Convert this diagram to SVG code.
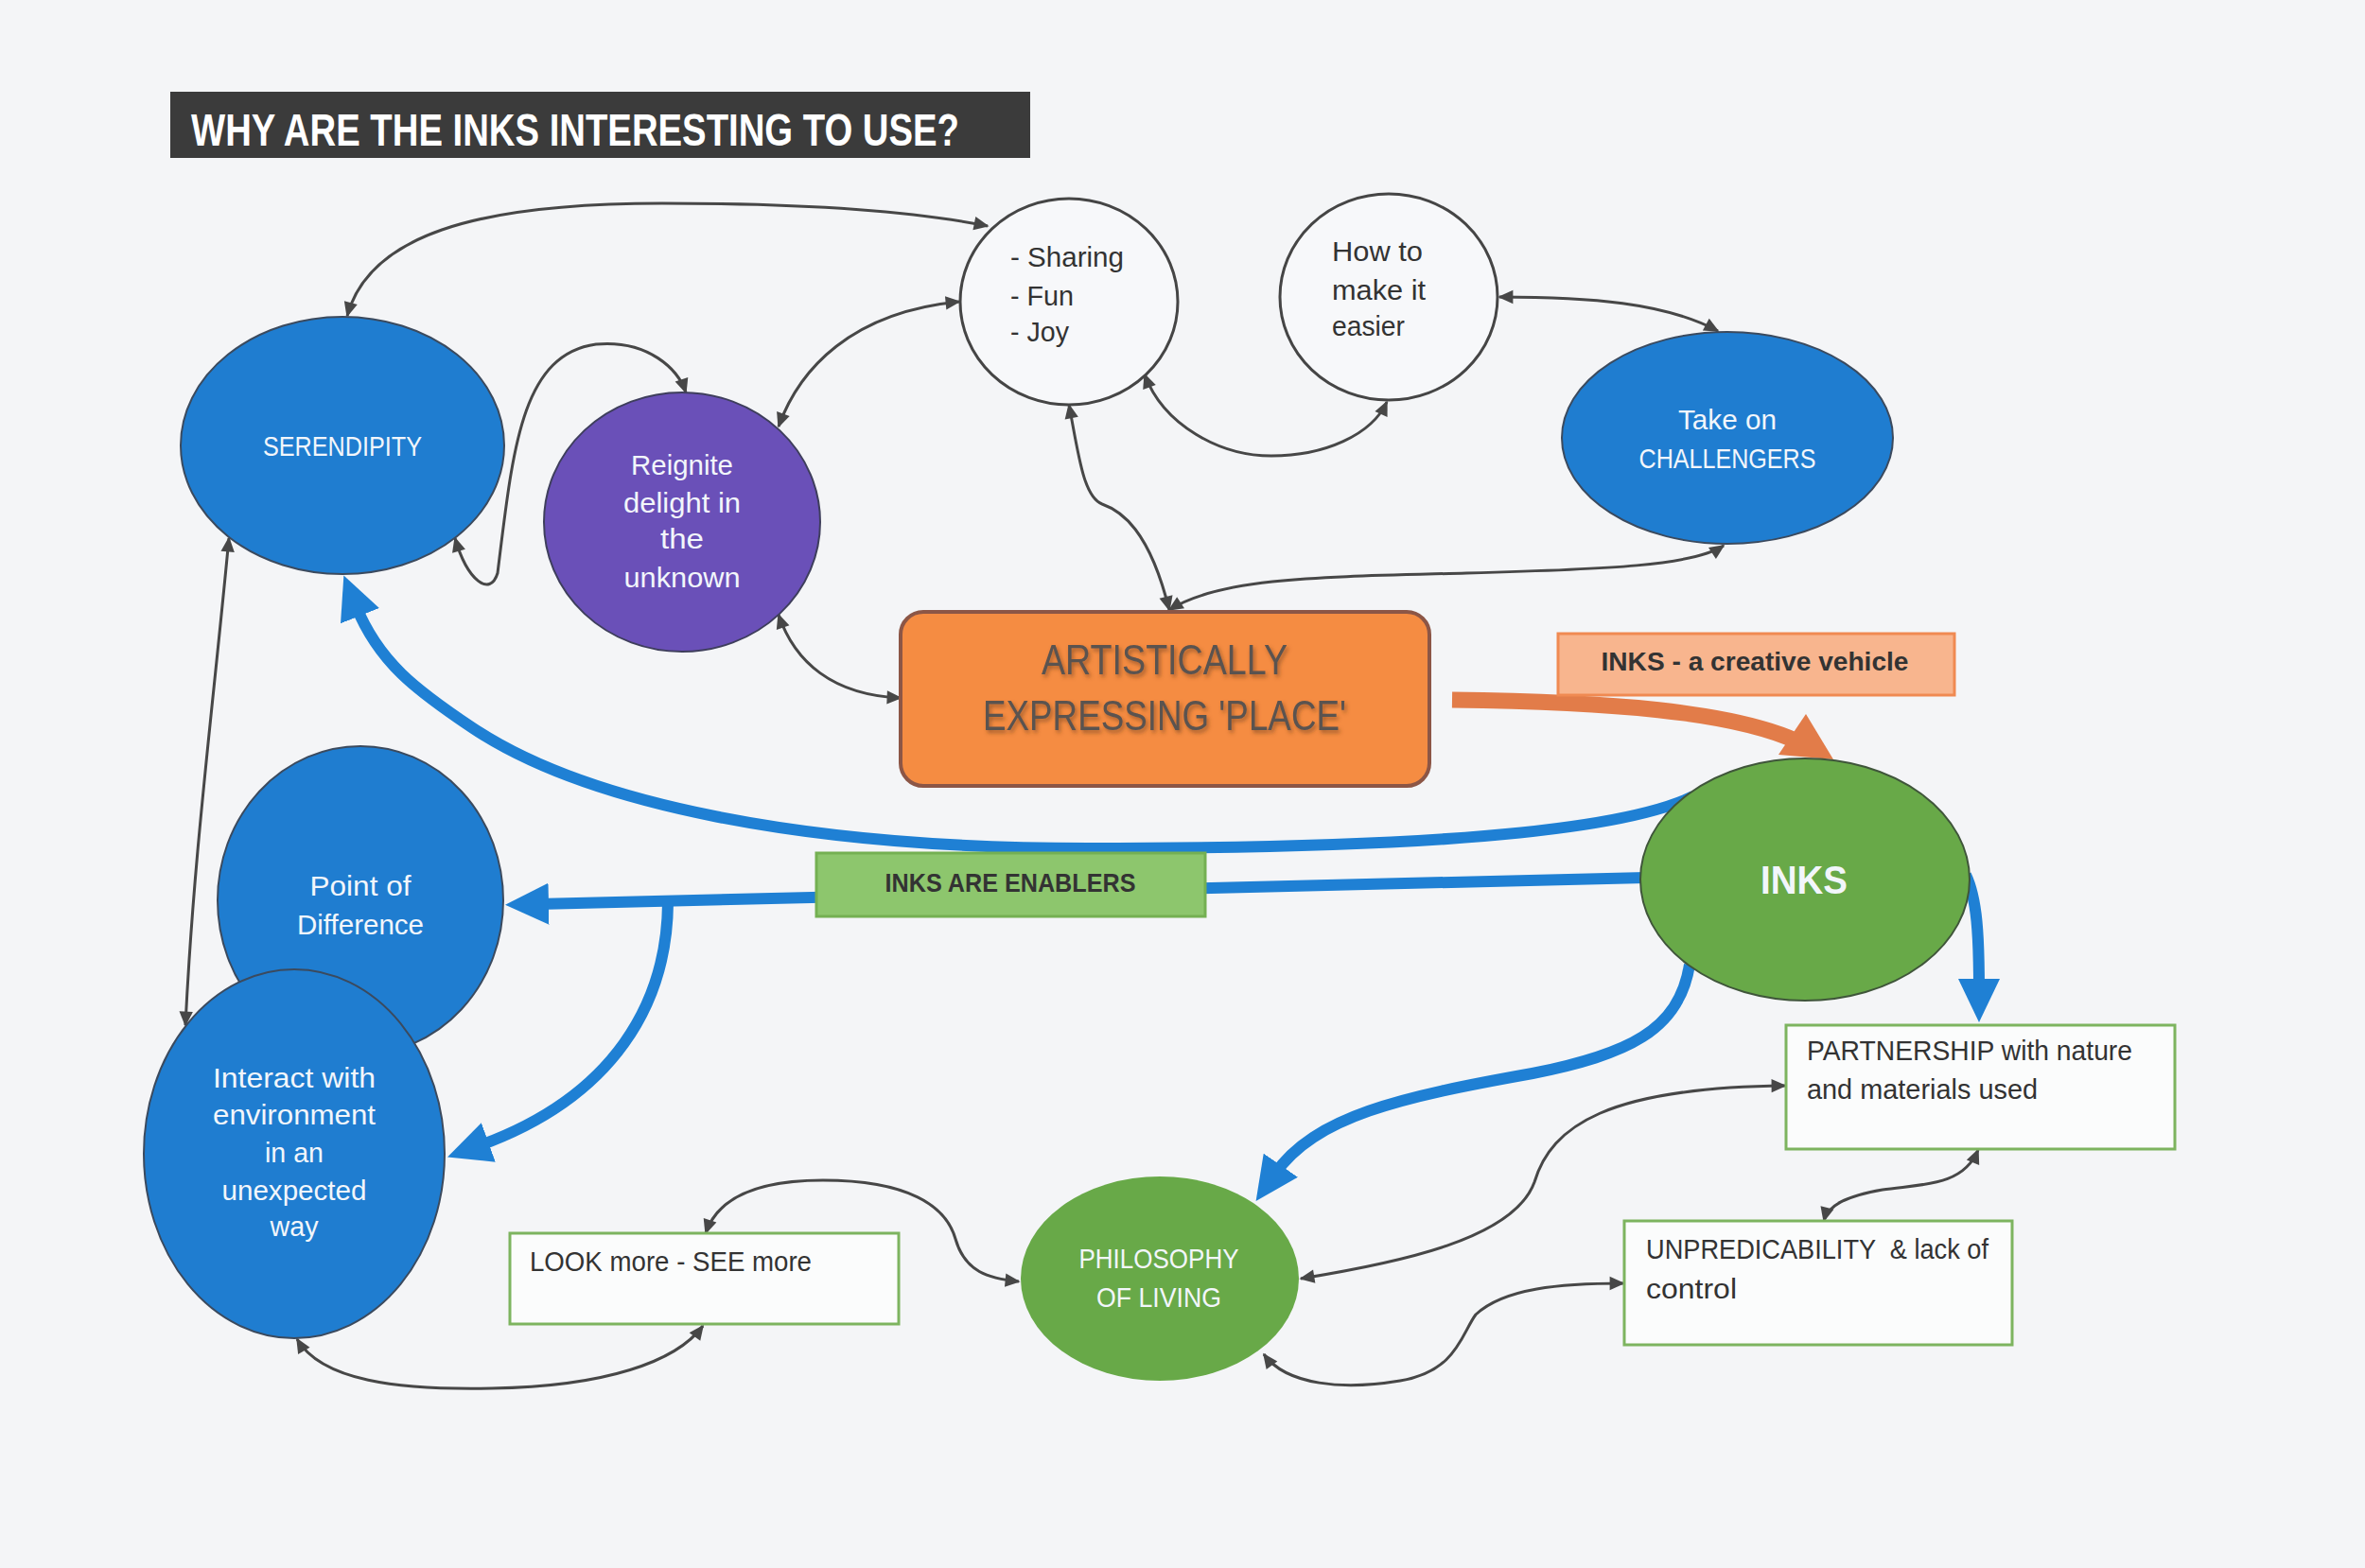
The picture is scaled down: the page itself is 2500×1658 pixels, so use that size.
<svg xmlns="http://www.w3.org/2000/svg" width="2500" height="1658" viewBox="0 0 2500 1658">
<style>
text{font-family:"Liberation Sans",Arial,sans-serif;font-size:29px;}
.w{fill:#f2f6fb;}
.d{fill:#333;}
.b{font-weight:bold;}
.m{text-anchor:middle;}
.t48{font-size:48px;}
.t44{font-size:44px;}
.t42{font-size:42px;}
.t28{font-size:28px;}
.thin{fill:none;stroke:#474747;stroke-width:3;marker-start:url(#ah);marker-end:url(#ah);}
.blue{fill:none;stroke:#1f80d4;stroke-width:12;marker-end:url(#bh);}
.bluen{fill:#1f7dd0;stroke:#3b4a5e;stroke-width:2;}
.wc{fill:#f7f8fa;stroke:#454545;stroke-width:3;}
.gbox{fill:#fbfcfc;stroke:#7db45f;stroke-width:3;}
</style>
<defs>
<marker id="ah" viewBox="0 0 10 10" refX="9" refY="5" markerWidth="18" markerHeight="16" markerUnits="userSpaceOnUse" orient="auto-start-reverse">
<path d="M0,0.5 L10,5 L0,9.5 z" fill="#474747"/>
</marker>
<marker id="bh" viewBox="0 0 46 44" refX="12" refY="22" markerWidth="46" markerHeight="44" markerUnits="userSpaceOnUse" orient="auto">
<path d="M0,0 L46,22 L0,44 z" fill="#1f80d4"/>
</marker>
<filter id="sh" x="-10%" y="-20%" width="130%" height="150%">
<feDropShadow dx="2" dy="3" stdDeviation="2" flood-color="#6b3a1a" flood-opacity="0.6"/>
</filter>
</defs>
<rect x="0" y="0" width="2500" height="1658" fill="#f4f5f7"/>

<g id="title">
<rect x="180" y="97" width="909" height="70" fill="#3b3b3b"/>
<text x="202" y="154" fill="#fff" class="b t48" textLength="812" lengthAdjust="spacingAndGlyphs">WHY ARE THE INKS INTERESTING TO USE?</text>
</g>

<g id="connectors">
<path class="thin" d="M367,334 C390,250 500,215 700,215 C850,215 960,222 1044,239"/>
<path class="thin" d="M481,569 C494,614 518,632 526,606 C542,478 550,375 630,364 C686,359 717,391 725,415"/>
<path class="thin" d="M823,451 C845,390 900,330 1014,319"/>
<path class="thin" d="M823,650 C840,700 880,735 952,738"/>
<path class="thin" d="M1130,428 C1140,480 1145,525 1165,533 C1185,540 1215,560 1236,645"/>
<path class="thin" d="M1236,645 C1290,610 1400,610 1550,606 C1700,602 1790,598 1822,577"/>
<path class="thin" d="M1210,396 C1230,450 1290,482 1344,482 C1400,482 1450,460 1466,425"/>
<path class="thin" d="M1585,314 C1680,314 1760,320 1816,350"/>
<path class="thin" d="M242,569 C225,750 205,900 196,1084"/>
<path class="thin" d="M314,1416 C340,1460 420,1470 520,1468 C640,1466 715,1440 743,1402"/>
<path class="thin" d="M746,1304 C760,1262 810,1248 870,1248 C960,1248 1000,1275 1010,1310 C1020,1345 1045,1352 1077,1355"/>
<path class="thin" d="M1375,1352 C1480,1335 1600,1310 1622,1250 C1640,1190 1700,1150 1887,1148"/>
<path class="thin" d="M1336,1432 C1360,1465 1420,1470 1480,1460 C1540,1450 1545,1410 1560,1390 C1590,1362 1650,1357 1716,1357"/>
<path class="thin" d="M2091,1216 C2075,1255 2030,1252 1990,1258 C1950,1265 1932,1275 1928,1291"/>

<path class="blue" d="M1790,842 C1700,885 1450,897 1150,897 C850,897 620,850 500,770 C440,730 400,700 376,640"/>
<path class="blue" d="M1740,928 L568,956"/>
<path class="blue" d="M706,955 C705,1060 650,1160 505,1212"/>
<path class="blue" d="M1786,1020 C1775,1090 1720,1115 1620,1135 C1480,1160 1390,1180 1347,1242"/>
<path class="blue" d="M2078,925 C2090,950 2092,990 2092,1047"/>

<path d="M1535,740 C1700,742 1830,752 1900,784" fill="none" stroke="#e27c49" stroke-width="17"/>
<polygon points="1909,755 1880,798 1938,803" fill="#e27c49"/>
</g>

<g id="label-vehicle">
<rect x="1647" y="670" width="419" height="65" fill="#f8b58e" stroke="#f08a52" stroke-width="3"/>
<text x="1855" y="709" class="d b m t28" textLength="325" lengthAdjust="spacingAndGlyphs">INKS - a creative vehicle</text>
</g>

<g id="label-enablers">
<rect x="863" y="902" width="411" height="67" fill="#8dc66d" stroke="#74b052" stroke-width="3"/>
<text x="1068" y="943" class="d b m t28" textLength="265" lengthAdjust="spacingAndGlyphs">INKS ARE ENABLERS</text>
</g>

<g id="sharing">
<ellipse class="wc" cx="1130" cy="319" rx="115" ry="109"/>
<text x="1068" y="282" class="d" textLength="120" lengthAdjust="spacingAndGlyphs">- Sharing</text>
<text x="1068" y="323" class="d" textLength="67" lengthAdjust="spacingAndGlyphs">- Fun</text>
<text x="1068" y="361" class="d" textLength="62" lengthAdjust="spacingAndGlyphs">- Joy</text>
</g>

<g id="howto">
<ellipse class="wc" cx="1468" cy="314" rx="115" ry="109"/>
<text x="1408" y="276" class="d" textLength="96" lengthAdjust="spacingAndGlyphs">How to</text>
<text x="1408" y="317" class="d" textLength="99" lengthAdjust="spacingAndGlyphs">make it</text>
<text x="1408" y="355" class="d" textLength="77" lengthAdjust="spacingAndGlyphs">easier</text>
</g>

<g id="serendipity">
<ellipse class="bluen" cx="362" cy="471" rx="171" ry="136"/>
<text x="362" y="482" class="w m" textLength="168" lengthAdjust="spacingAndGlyphs">SERENDIPITY</text>
</g>

<g id="reignite">
<ellipse cx="721" cy="552" rx="146" ry="137" fill="#6a50b8" stroke="#3e3e5c" stroke-width="2"/>
<text x="721" y="502" class="w m" textLength="108" lengthAdjust="spacingAndGlyphs">Reignite</text>
<text x="721" y="542" class="w m" textLength="124" lengthAdjust="spacingAndGlyphs">delight in</text>
<text x="721" y="580" class="w m" textLength="46" lengthAdjust="spacingAndGlyphs">the</text>
<text x="721" y="621" class="w m" textLength="123" lengthAdjust="spacingAndGlyphs">unknown</text>
</g>

<g id="challengers">
<ellipse class="bluen" cx="1826" cy="463" rx="175" ry="112"/>
<text x="1826" y="454" class="w m" textLength="104" lengthAdjust="spacingAndGlyphs">Take on</text>
<text x="1826" y="495" class="w m" textLength="187" lengthAdjust="spacingAndGlyphs">CHALLENGERS</text>
</g>

<g id="artistically">
<rect x="952" y="647" width="559" height="184" rx="24" fill="#f58c42" stroke="#8c5646" stroke-width="4"/>
<text x="1231" y="713" class="m t44" fill="#5a5350" filter="url(#sh)" textLength="260" lengthAdjust="spacingAndGlyphs">ARTISTICALLY</text>
<text x="1231" y="772" class="m t44" fill="#5a5350" filter="url(#sh)" textLength="384" lengthAdjust="spacingAndGlyphs">EXPRESSING 'PLACE'</text>
</g>

<g id="inks">
<ellipse cx="1908" cy="930" rx="174" ry="128" fill="#68a948" stroke="#3f553a" stroke-width="2"/>
<text x="1907" y="945" class="w b m t42" textLength="92" lengthAdjust="spacingAndGlyphs">INKS</text>
</g>

<g id="point-of-difference">
<ellipse class="bluen" cx="381" cy="952" rx="151" ry="163"/>
<text x="381" y="947" class="w m" textLength="107" lengthAdjust="spacingAndGlyphs">Point of</text>
<text x="381" y="988" class="w m" textLength="134" lengthAdjust="spacingAndGlyphs">Difference</text>
</g>

<g id="interact">
<ellipse class="bluen" cx="311" cy="1220" rx="159" ry="195"/>
<text x="311" y="1150" class="w m" textLength="172" lengthAdjust="spacingAndGlyphs">Interact with</text>
<text x="311" y="1189" class="w m" textLength="172" lengthAdjust="spacingAndGlyphs">environment</text>
<text x="311" y="1229" class="w m" textLength="62" lengthAdjust="spacingAndGlyphs">in an</text>
<text x="311" y="1269" class="w m" textLength="153" lengthAdjust="spacingAndGlyphs">unexpected</text>
<text x="311" y="1307" class="w m" textLength="51" lengthAdjust="spacingAndGlyphs">way</text>
</g>

<g id="look">
<rect class="gbox" x="539" y="1304" width="411" height="96"/>
<text x="560" y="1344" class="d" textLength="298" lengthAdjust="spacingAndGlyphs">LOOK more - SEE more</text>
</g>

<g id="philosophy">
<ellipse cx="1226" cy="1352" rx="147" ry="108" fill="#68a948"/>
<text x="1225" y="1341" class="w m" textLength="169" lengthAdjust="spacingAndGlyphs">PHILOSOPHY</text>
<text x="1225" y="1382" class="w m" textLength="132" lengthAdjust="spacingAndGlyphs">OF LIVING</text>
</g>

<g id="partnership">
<rect class="gbox" x="1888" y="1084" width="411" height="131"/>
<text x="1910" y="1121" class="d" textLength="344" lengthAdjust="spacingAndGlyphs">PARTNERSHIP with nature</text>
<text x="1910" y="1162" class="d" textLength="244" lengthAdjust="spacingAndGlyphs">and materials used</text>
</g>

<g id="unpredicability">
<rect class="gbox" x="1717" y="1291" width="410" height="131"/>
<text x="1740" y="1331" class="d" xml:space="preserve" textLength="362" lengthAdjust="spacingAndGlyphs">UNPREDICABILITY  &amp; lack of</text>
<text x="1740" y="1373" class="d" textLength="96" lengthAdjust="spacingAndGlyphs">control</text>
</g>
</svg>
